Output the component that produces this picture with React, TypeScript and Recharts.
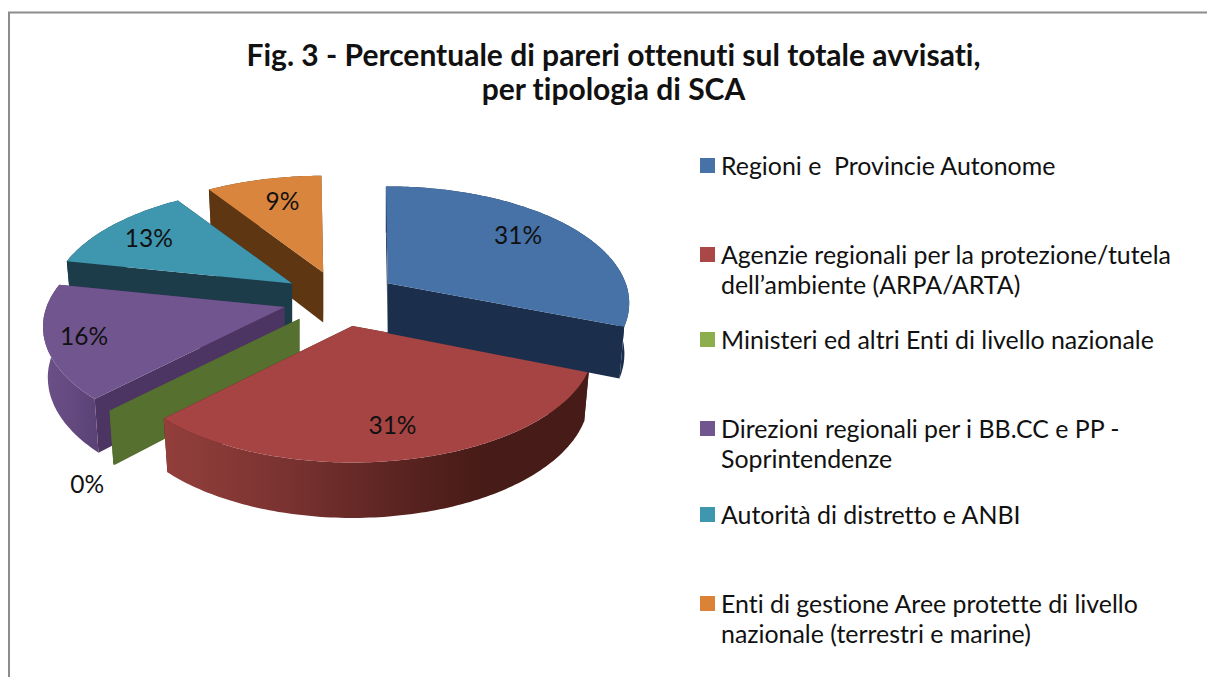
import React from "react";
import { PieChart, Pie, Legend } from "recharts";

const categories = [
  "Regioni e  Provincie Autonome",
  "Agenzie regionali per la protezione/tutela dell’ambiente (ARPA/ARTA)",
  "Ministeri ed altri Enti di livello nazionale",
  "Direzioni regionali per i BB.CC e PP - Soprintendenze",
  "Autorità di distretto e ANBI",
  "Enti di gestione Aree protette di livello nazionale (terrestri e marine)",
];
const legendLines = [
  ["Regioni e  Provincie Autonome"],
  ["Agenzie regionali per la protezione/tutela", "dell’ambiente (ARPA/ARTA)"],
  ["Ministeri ed altri Enti di livello nazionale"],
  ["Direzioni regionali per i BB.CC e PP -", "Soprintendenze"],
  ["Autorità di distretto e ANBI"],
  ["Enti di gestione Aree protette di livello", "nazionale (terrestri e marine)"],
];
const values = [31, 31.4, 0.1, 15.9, 12.5, 9.1];
const titleLines = ["Fig. 3 - Percentuale di pareri ottenuti sul totale avvisati,", "per tipologia di SCA"];

const topColors = ["#4672a8", "#a54442", "#56702f", "#71558f", "#3f96af", "#da853d"];
const legendColors = ["#4672a8", "#a94846", "#8cae4f", "#71558f", "#3f96af", "#dc8236"];
const cutColors = ["#1b2e4b", "#471b17", "#56702f", "#4c3563", "#1b3c48", "#5e3612"];
const sideFills = ["url(#sideBlue)", "url(#sideRed)", "#56702f", "url(#sidePurple)", "#1b3c48", "#5e3612"];
const legendRowTops = [150, 239, 324, 413, 499, 588];
const labelNudges = [[2, -6], [-4, 3], [-76, 98], [-28, 4], [-14, -4], [2, -5]];

// Draw order is back to front: the pie runs counter-clockwise over the reversed table.
const sliceData = categories
  .map((name, i) => ({ name, value: values[i], fill: topColors[i], colorIndex: i }))
  .reverse();

const FONT = "Lato, Carlito, sans-serif";
const VIEW_RATIO = 113.3 / 238;
const PERSPECTIVE = 0.17;
const EXPLODE = 58;
const DEPTH = 50;
const BASE_SHRINK = 0.98;

const rad = (d: number) => (d * Math.PI) / 180;

function project(radius: number, theta: number) {
  const v = -Math.cos(rad(theta));
  const s = 1 / (1 - PERSPECTIVE * v);
  return { x: radius * Math.sin(rad(theta)) * s, y: radius * VIEW_RATIO * v * s, s };
}
function apexOf(cx: number, cy: number, theta: number) {
  return {
    x: cx + EXPLODE * Math.sin(rad(theta)),
    y: cy - EXPLODE * VIEW_RATIO * Math.cos(rad(theta)),
  };
}
const toPath = (pts: { x: number; y: number }[]) =>
  pts.map((p, i) => `${i ? "L" : "M"}${p.x.toFixed(1)},${p.y.toFixed(1)}`).join("") + "Z";

function Slice3D(props: any) {
  const { cx, cy, outerRadius, startAngle, endAngle, midAngle, colorIndex } = props;
  const idx = colorIndex ?? props.payload?.colorIndex ?? 0;
  const t1 = 90 - Math.max(startAngle, endAngle);
  const t2 = 90 - Math.min(startAngle, endAngle);
  const apex = apexOf(cx, cy, 90 - midAngle);
  const steps = Math.max(1, Math.ceil(t2 - t1));
  const topArc: { x: number; y: number }[] = [];
  const lowArc: { x: number; y: number }[] = [];
  for (let i = 0; i <= steps; i++) {
    const th = t1 + ((t2 - t1) * i) / steps;
    const p = project(outerRadius, th);
    topArc.push({ x: apex.x + p.x, y: apex.y + p.y });
    lowArc.push({ x: apex.x + p.x * BASE_SHRINK, y: apex.y + p.y * BASE_SHRINK + DEPTH * (0.2 + 0.8 * p.s) });
  }
  const apexLow = { x: apex.x, y: apex.y + DEPTH };
  const last = topArc.length - 1;
  return (
    <g>
      <path d={toPath([apex, topArc[0], lowArc[0], apexLow])} fill={cutColors[idx]} />
      <path d={toPath([apex, topArc[last], lowArc[last], apexLow])} fill={cutColors[idx]} />
      <path d={toPath([...topArc, ...[...lowArc].reverse()])} fill={sideFills[idx]} />
      <path d={toPath([apex, ...topArc])} fill={topColors[idx]} />
    </g>
  );
}

function SliceLabel(props: any) {
  const { cx, cy, outerRadius, midAngle, percent, colorIndex } = props;
  const idx = colorIndex ?? props.payload?.colorIndex ?? 0;
  const theta = 90 - midAngle;
  const apex = apexOf(cx, cy, theta);
  const p = project(outerRadius * 0.72, theta);
  return (
    <text
      x={apex.x + p.x + labelNudges[idx][0]}
      y={apex.y + p.y + labelNudges[idx][1]}
      textAnchor="middle"
      dominantBaseline="central"
      fontFamily={FONT}
      fontSize={24.5}
      fill="#111"
    >
      {`${Math.round(percent * 100)}%`}
    </text>
  );
}

function LegendBlock() {
  return (
    <div
      style={{
        position: "relative",
        width: 500,
        height: 520,
        fontFamily: FONT,
        fontSize: 24.9,
        color: "#111",
        fontVariantLigatures: "none",
      }}
    >
      {legendLines.map((lines, i) => (
        <div key={i} style={{ position: "absolute", left: 0, top: legendRowTops[i] - 150 }}>
          <span style={{ position: "absolute", left: 0, top: 8, width: 15, height: 15, background: legendColors[i] }} />
          {lines.map((line, j) => (
            <div key={j} style={{ position: "absolute", left: 21, top: j * 30, height: 30, lineHeight: "30px", whiteSpace: "pre" }}>
              {line}
            </div>
          ))}
        </div>
      ))}
    </div>
  );
}

export default function App() {
  return (
    <div style={{ position: "absolute", left: 0, top: 0, width: 1207, height: 677, background: "#fff", overflow: "hidden" }}>
      <PieChart width={1207} height={677} margin={{ top: 0, right: 0, bottom: 0, left: 0 }}>
        <defs>
          <linearGradient id="sideRed" x1="0" y1="0" x2="1" y2="0">
            <stop offset="0" stopColor="#933f3c" />
            <stop offset="0.3" stopColor="#783230" />
            <stop offset="0.55" stopColor="#5b2421" />
            <stop offset="0.75" stopColor="#471b17" />
            <stop offset="1" stopColor="#471b17" />
          </linearGradient>
          <linearGradient id="sidePurple" x1="0" y1="0" x2="1" y2="0">
            <stop offset="0" stopColor="#6c5189" />
            <stop offset="0.8" stopColor="#5e4579" />
            <stop offset="1" stopColor="#5a4275" />
          </linearGradient>
          <linearGradient id="sideBlue" x1="0" y1="0" x2="1" y2="0">
            <stop offset="0" stopColor="#1b2e4b" />
            <stop offset="1" stopColor="#1b2e4b" />
          </linearGradient>
        </defs>
        <line x1={8} y1={12.5} x2={1207} y2={12.5} stroke="#8c8c8c" strokeWidth={2} />
        <line x1={9} y1={12} x2={9} y2={677} stroke="#8c8c8c" strokeWidth={2} />
        {titleLines.map((t, i) => (
          <text
            key={i}
            x={613.5}
            y={66 + i * 34}
            textAnchor="middle"
            fontFamily={FONT}
            fontWeight={700}
            fontSize={30}
            fill="#111"
            style={{ fontVariantLigatures: "none" }}
          >
            {t}
          </text>
        ))}
        <Pie
          data={sliceData}
          dataKey="value"
          nameKey="name"
          cx={340}
          cy={299}
          outerRadius={238}
          startAngle={-269.5}
          endAngle={90.5}
          isAnimationActive={false}
          shape={Slice3D}
          label={SliceLabel}
          labelLine={false}
          stroke="none"
        />
        <Legend
          content={() => <LegendBlock />}
          wrapperStyle={{ position: "absolute", left: 700, top: 150, width: 500, height: 520 }}
        />
      </PieChart>
    </div>
  );
}
